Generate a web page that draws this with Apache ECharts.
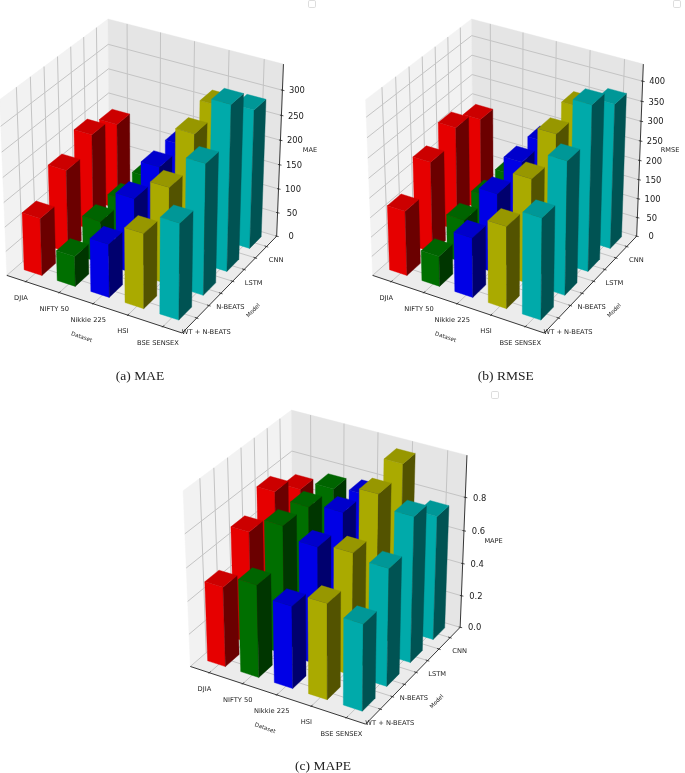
<!DOCTYPE html>
<html>
<head>
<meta charset="utf-8">
<style>html,body{margin:0;padding:0;background:#fff}#c{width:685px;height:773px}</style>
<script src="https://cdn.jsdelivr.net/npm/echarts@6/dist/echarts.min.js"></script>
</head>
<body>
<div id="c"></div>
<script>
var datasets = ['DJIA', 'NIFTY 50', 'Nikkie 225', 'HSI', 'BSE SENSEX'];
var models = ['WT + N-BEATS', 'N-BEATS', 'LSTM', 'CNN'];
var faceFront = ['#e60000', '#006f00', '#0000e6', '#aaaa00', '#00aaaa'];
var faceTop = ['#cc0000', '#006400', '#0000cc', '#979700', '#009797'];
var faceSide = ['#6b0000', '#003600', '#00006e', '#535300', '#005353'];

var maeDJIA = [118, 170, 199, 178];
var maeNifty = [62, 86, 85, 87];
var maeNikkei = [109, 154, 173, 174];
var maeHSI = [152, 197, 259, 273];
var maeBSE = [194, 264, 335, 283];
var rmseDJIA = [167, 235, 269, 237];
var rmseNifty = [78, 112, 116, 117];
var rmseNikkei = [153, 206, 230, 228];
var rmseHSI = [209, 269, 326, 340];
var rmseBSE = [257, 339, 421, 371];
var mapeDJIA = [0.486, 0.684, 0.799, 0.691];
var mapeNifty = [0.561, 0.779, 0.764, 0.75];
var mapeNikkei = [0.498, 0.713, 0.789, 0.768];
var mapeHSI = [0.578, 0.737, 0.952, 1.007];
var mapeBSE = [0.522, 0.708, 0.879, 0.754];

var maeTicks = [0, 50, 100, 150, 200, 250, 300];
var rmseTicks = [0, 50, 100, 150, 200, 250, 300, 350, 400];
var mapeTicks = [0, 0.2, 0.4, 0.6, 0.8];

var xLim = [-0.58, 4.54];
var yLim = [-0.59, 3.46];
var barX0 = -0.34, barY0 = -0.24, barDX = 0.54, barDY = 0.52;

var panels = [
  { name: 'MAE', caption: '(a) MAE', cx: 143.8, cy: 170.75, zMax: 351, ticks: maeTicks, dec: 0, capX: 140, capY: 376,
    values: [maeDJIA, maeNifty, maeNikkei, maeHSI, maeBSE], box: [312, 4] },
  { name: 'RMSE', caption: '(b) RMSE', cx: 509.7, cy: 170.75, zMax: 442, ticks: rmseTicks, dec: 0, capX: 505.7, capY: 376,
    values: [rmseDJIA, rmseNifty, rmseNikkei, rmseHSI, rmseBSE], box: [677, 4] },
  { name: 'MAPE', caption: '(c) MAPE', cx: 327.3, cy: 561.85, zMax: 1.047, ticks: mapeTicks, dec: 1, capX: 323, capY: 766,
    values: [mapeDJIA, mapeNifty, mapeNikkei, mapeHSI, mapeBSE], box: [495, 395] }
];

// matplotlib-style view: elevation, azimuth -60, dist 10, unit cube
var ELEV = 30.5 * Math.PI / 180;
var U = [Math.cos(ELEV) * 0.5, -Math.cos(ELEV) * 0.8660254, Math.sin(ELEV)];
var V = [0.8660254, 0.5, 0];
var W = [-Math.sin(ELEV) * 0.5, Math.sin(ELEV) * 0.8660254, Math.cos(ELEV)];
function project(x, y, z, zMax) {
  var p = [(x - xLim[0]) / (xLim[1] - xLim[0]) - 0.5,
           (y - yLim[0]) / (yLim[1] - yLim[0]) - 0.5,
           z / zMax - 0.5];
  var d = 10 - (p[0] * U[0] + p[1] * U[1] + p[2] * U[2]);
  return [(p[0] * V[0] + p[1] * V[1]) / d, (p[0] * W[0] + p[1] * W[1] + p[2] * W[2]) / d];
}
var SCALE_X = 2025, SCALE_Y = 2017, FONT = 'DejaVu Sans';

function poly(pts, fill, stroke, sw) {
  return { type: 'polygon', silent: true, shape: { points: pts },
    style: { fill: fill, stroke: stroke || fill, lineWidth: sw === undefined ? 0.4 : sw } };
}
function line(a, b, color, w) {
  return { type: 'line', silent: true, shape: { x1: a[0], y1: a[1], x2: b[0], y2: b[1] },
    style: { stroke: color, lineWidth: w, fill: null } };
}
function label(text, pos, size, rot) {
  return { type: 'text', silent: true, x: pos[0], y: pos[1], rotation: rot || 0,
    style: { x: 0, y: 0, text: text, fill: '#1a1a1a', fontFamily: FONT, fontSize: size,
             align: 'center', verticalAlign: 'middle' } };
}

function sceneRenderer(panel) {
  return function (params, api) {
    var Z = panel.zMax;
    function P(x, y, z) { return api.coord(project(x, y, z, Z)); }
    var x0 = xLim[0], x1 = xLim[1], y0 = yLim[0], y1 = yLim[1];
    var kids = [];
    kids.push(poly([P(x0, y0, 0), P(x1, y0, 0), P(x1, y1, 0), P(x0, y1, 0)], '#ececec', '#ececec'));
    kids.push(poly([P(x0, y0, 0), P(x0, y1, 0), P(x0, y1, Z), P(x0, y0, Z)], '#f2f2f2', '#f2f2f2'));
    kids.push(poly([P(x0, y1, 0), P(x1, y1, 0), P(x1, y1, Z), P(x0, y1, Z)], '#e5e5e5', '#e5e5e5'));
    var grid = '#c4c4c4', gw = 1;
    datasets.forEach(function (d, i) {
      kids.push(line(P(i, y0, 0), P(i, y1, 0), grid, gw));
      kids.push(line(P(i, y1, 0), P(i, y1, Z), grid, gw));
    });
    for (var k = 0; k < models.length * 2 - 1; k++) {
      var yy = k / 2;
      kids.push(line(P(x0, yy, 0), P(x1, yy, 0), grid, gw));
      kids.push(line(P(x0, yy, 0), P(x0, yy, Z), grid, gw));
    }
    panel.ticks.forEach(function (t) {
      kids.push(line(P(x0, y0, t), P(x0, y1, t), grid, gw));
      kids.push(line(P(x0, y1, t), P(x1, y1, t), grid, gw));
    });
    kids.push(line(P(x0, y0, 0), P(x1, y0, 0), '#222', 0.9));
    kids.push(line(P(x1, y0, 0), P(x1, y1, 0), '#222', 0.9));
    kids.push(line(P(x1, y1, 0), P(x1, y1, Z), '#222', 0.9));
    datasets.forEach(function (d, i) {
      var a = P(i, y0, 0);
      kids.push(line([a[0] - 0.6, a[1] + 0.7], [a[0] + 1.2, a[1] - 1.4], '#222', 0.8));
      kids.push(label(d, [a[0] - 5, a[1] + 16.5], 6.7));
    });
    for (var m = 0; m < models.length * 2 - 1; m++) {
      var b = P(x1, m / 2, 0);
      kids.push(line([b[0] - 2, b[1] - 0.6], [b[0] + 1.6, b[1] + 0.6], '#222', 0.8));
      if (m % 2 === 0) kids.push(label(models[m / 2], [b[0] + 9.5, b[1] + 14], 6.7));
    }
    panel.ticks.forEach(function (t) {
      var c = P(x1, y1, t);
      kids.push(line([c[0] - 1.5, c[1] - 0.3], [c[0] + 2, c[1] + 0.4], '#222', 0.8));
      kids.push(label(t.toFixed(panel.dec), [c[0] + 14.5, c[1] + 1], 8.4));
    });
    var B = P(x1, y0, 0), A = P(x0, y0, 0), C = P(x1, y1, 0), E = P(x1, y1, Z);
    kids.push(label('Dataset', [(A[0] + B[0]) / 2 - 13, (A[1] + B[1]) / 2 + 33], 5.6, -0.33));
    kids.push(label('Model', [(B[0] + C[0]) / 2 + 24, (B[1] + C[1]) / 2 + 26], 5.6, 0.8));
    kids.push(label(panel.name, [(C[0] + E[0]) / 2 + 30, (C[1] + E[1]) / 2], 6.6));
    return { type: 'group', children: kids };
  };
}

function barRenderer(panel) {
  return function (params, api) {
    var i = api.value(0), j = api.value(1), v = api.value(2), Z = panel.zMax;
    function P(x, y, z) { return api.coord(project(x, y, z, Z)); }
    var xa = i + barX0, xb = xa + barDX, ya = j + barY0, yb = ya + barDY;
    return { type: 'group', children: [
      poly([P(xa, ya, 0), P(xb, ya, 0), P(xb, ya, v), P(xa, ya, v)], faceFront[i]),
      poly([P(xb, ya, 0), P(xb, yb, 0), P(xb, yb, v), P(xb, ya, v)], faceSide[i]),
      poly([P(xa, ya, v), P(xb, ya, v), P(xb, yb, v), P(xa, yb, v)], faceTop[i])
    ] };
  };
}

var grids = [], xAxes = [], yAxes = [], series = [], graphics = [];
panels.forEach(function (p, n) {
  grids.push({ left: p.cx - 0.07 * SCALE_X, top: p.cy - 0.08 * SCALE_Y, width: 0.16 * SCALE_X, height: 0.16 * SCALE_Y });
  xAxes.push({ type: 'value', gridIndex: n, min: -0.07, max: 0.09, show: false });
  yAxes.push({ type: 'value', gridIndex: n, min: -0.08, max: 0.08, show: false });
  series.push({ type: 'custom', name: p.name + ' axes', xAxisIndex: n, yAxisIndex: n, silent: true,
    clip: false, z: 1, renderItem: sceneRenderer(p), data: [[0, 0]], encode: { x: 0, y: 1 } });
  var rows = [];
  for (var j = models.length - 1; j >= 0; j--) {
    for (var i = 0; i < datasets.length; i++) rows.push([i, j, p.values[i][j]]);
  }
  series.push({ type: 'custom', name: p.name, xAxisIndex: n, yAxisIndex: n, silent: true,
    clip: false, z: 2, renderItem: barRenderer(p), data: rows, encode: { x: -1, y: -1 } });
  graphics.push({ type: 'text', x: p.capX, y: p.capY, silent: true,
    style: { text: p.caption, fontFamily: 'Liberation Serif', fontSize: 13.5, fill: '#222',
             align: 'center', verticalAlign: 'middle' } });
  graphics.push({ type: 'rect', x: p.box[0] - 3.5, y: p.box[1] - 3.5, shape: { width: 7, height: 7, r: 1.2 },
    style: { fill: '#fff', stroke: '#d4d4d4', lineWidth: 0.8 }, silent: true });
});

var chart = echarts.init(document.getElementById('c'), null, { renderer: 'canvas' });
chart.setOption({
  animation: false, backgroundColor: '#fff',
  grid: grids, xAxis: xAxes, yAxis: yAxes, series: series, graphic: graphics,
  tooltip: { show: false }
});
</script>
</body>
</html>
